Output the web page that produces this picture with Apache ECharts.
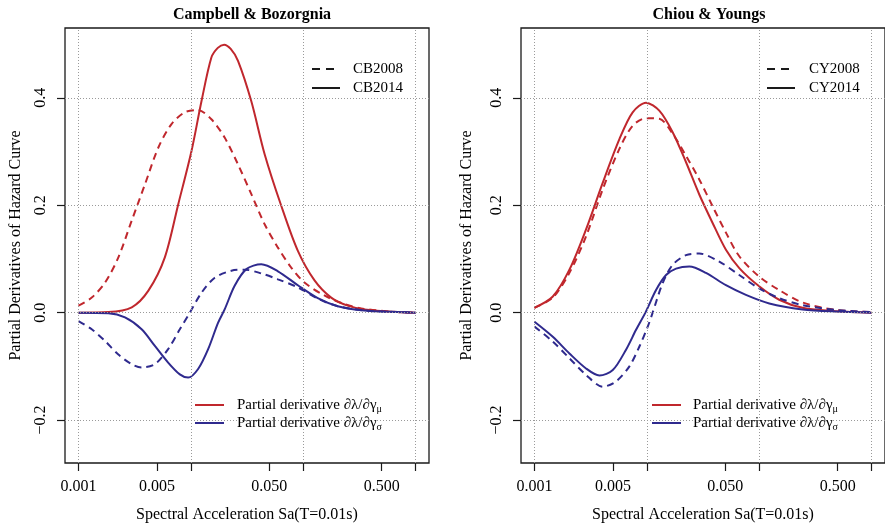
<!DOCTYPE html>
<html>
<head>
<meta charset="utf-8">
<script src="https://cdn.jsdelivr.net/npm/echarts@6/dist/echarts.min.js"></script>
<style>html,body{margin:0;padding:0;background:#fff;}#c{width:885px;height:528px;}</style>
</head>
<body>
<div id="c"></div>
<script>
// ---------- data ----------
const panelTitles = ['Campbell & Bozorgnia', 'Chiou & Youngs'];
const versionLabels = [['CB2008', 'CB2014'], ['CY2008', 'CY2014']];
const derivLabelMu = 'Partial derivative \u2202\u03bb/\u2202\u03b3{sub|\u03bc}';
const derivLabelSigma = 'Partial derivative \u2202\u03bb/\u2202\u03b3{sub|\u03c3}';

const xTickSa = [0.001, 0.005, 0.01, 0.05, 0.1, 0.5, 1];
const xLabelSa = [0.001, 0.005, 0.05, 0.5];
const xLabelText = ['0.001', '0.005', '0.050', '0.500'];
const xGridSa = [0.001, 0.01, 0.1, 1];
const yTickValues = [-0.2, 0, 0.2, 0.4];
const yLabelText = ['\u22120.2', '0.0', '0.2', '0.4'];

// Campbell & Bozorgnia
const cb14MuSa = [0.001, 0.001845, 0.00298, 0.00419, 0.00587, 0.00773, 0.01014, 0.01245, 0.01524, 0.01738, 0.01977, 0.02265, 0.0263, 0.0345, 0.0454, 0.0638, 0.0897, 0.1262, 0.1775, 0.2495, 0.35, 0.692, 1.0];
const cb14Mu   = [0.000, 0.001, 0.010, 0.041, 0.103, 0.202, 0.301, 0.394, 0.475, 0.493, 0.499, 0.491, 0.469, 0.394, 0.295, 0.199, 0.115, 0.060, 0.028, 0.013, 0.006, 0.001, 0.0];
const cb08MuSa = [0.001, 0.001312, 0.001726, 0.002265, 0.002972, 0.003908, 0.005129, 0.00673, 0.00883, 0.01161, 0.01524, 0.0200, 0.0263, 0.0345, 0.0453, 0.0596, 0.0782, 0.1026, 0.1545, 0.2323, 0.35, 0.69, 1.0];
const cb08Mu   = [0.013, 0.028, 0.056, 0.103, 0.171, 0.239, 0.307, 0.351, 0.373, 0.377, 0.360, 0.326, 0.276, 0.221, 0.165, 0.121, 0.084, 0.056, 0.032, 0.016, 0.007, 0.001, 0.0];
const cb14SigSa = [0.001, 0.001845, 0.002594, 0.003648, 0.004786, 0.00628, 0.00798, 0.00946, 0.01161, 0.01426, 0.01746, 0.0200, 0.02455, 0.0312, 0.0424, 0.0596, 0.0897, 0.1349, 0.2032, 0.35, 0.69, 1.0];
const cb14Sig   = [0.0, -0.001, -0.009, -0.031, -0.062, -0.093, -0.115, -0.121, -0.105, -0.068, -0.019, 0.006, 0.050, 0.081, 0.090, 0.077, 0.051, 0.027, 0.012, 0.004, 0.001, 0.0];
const cb08SigSa = [0.001, 0.001312, 0.001726, 0.002265, 0.002972, 0.003648, 0.004786, 0.00628, 0.00798, 0.0098, 0.01245, 0.01633, 0.02296, 0.0302, 0.0424, 0.0596, 0.0897, 0.1349, 0.2032, 0.35, 0.69, 1.0];
const cb08Sig   = [-0.016, -0.031, -0.053, -0.078, -0.096, -0.102, -0.096, -0.068, -0.031, 0.0, 0.037, 0.065, 0.078, 0.080, 0.073, 0.062, 0.047, 0.026, 0.012, 0.004, 0.001, 0.0];

// Chiou & Youngs
const cyMuSa = [0.001, 0.001456, 0.002046, 0.002877, 0.004055, 0.0057, 0.00748, 0.00984, 0.01291, 0.01698, 0.02234, 0.0293, 0.0385, 0.0506, 0.0665, 0.1, 0.1507, 0.2432, 0.481, 1.0];
const cy14Mu = [0.009, 0.030, 0.080, 0.155, 0.242, 0.323, 0.373, 0.391, 0.376, 0.336, 0.280, 0.220, 0.167, 0.117, 0.083, 0.049, 0.024, 0.009, 0.0025, 0.0];
const cy08Mu = [0.009, 0.028, 0.074, 0.142, 0.230, 0.305, 0.348, 0.362, 0.361, 0.333, 0.292, 0.248, 0.198, 0.149, 0.105, 0.067, 0.042, 0.019, 0.005, 0.001];
const cy14SigSa = [0.001, 0.001456, 0.002046, 0.002877, 0.003784, 0.004977, 0.00653, 0.00802, 0.00971, 0.01208, 0.01483, 0.0182, 0.0239, 0.0336, 0.0506, 0.0762, 0.1230, 0.2432, 0.481, 1.0];
const cy14Sig   = [-0.017, -0.045, -0.076, -0.104, -0.117, -0.107, -0.069, -0.032, 0.0, 0.042, 0.070, 0.082, 0.086, 0.074, 0.051, 0.033, 0.017, 0.006, 0.002, 0.0];
const cy08SigSa = [0.001, 0.001456, 0.002046, 0.002877, 0.004055, 0.005321, 0.006998, 0.00859, 0.01019, 0.01127, 0.01384, 0.01698, 0.02234, 0.0293, 0.04416, 0.0665, 0.1, 0.1507, 0.2432, 0.481, 1.0];
const cy08Sig   = [-0.026, -0.054, -0.085, -0.116, -0.138, -0.128, -0.100, -0.063, -0.026, 0.0, 0.055, 0.089, 0.107, 0.110, 0.095, 0.070, 0.045, 0.027, 0.014, 0.005, 0.001];

// ---------- chart ----------
const RED = '#c0272d', BLUE = '#2f2a8e', INK = '#1a1a1a';
const FONT = 'Liberation Serif';
const X_MIN = -3.12, X_MAX = 0.12, Y_MIN = -0.28, Y_MAX = 0.53;
const lg = v => Math.log10(v);
const pairs = (xs, ys) => xs.map((x, i) => [lg(x), ys[i]]);
const findLabel = (vals, texts, v) => {
  const i = vals.findIndex(a => Math.abs(a - v) < 1e-6);
  return i >= 0 ? texts[i] : '';
};

const grids = [
  { left: 65, top: 28, width: 364, height: 435 },
  { left: 521, top: 28, width: 364, height: 435 }
].map(g => Object.assign(g, { show: true, borderColor: INK, borderWidth: 1.3, backgroundColor: 'transparent',
  containLabel: false, outerBoundsMode: 'none' }));

const xLabelLog = xLabelSa.map(lg);
const xAxes = [0, 1].map(i => ({
  type: 'value', gridIndex: i, min: X_MIN, max: X_MAX,
  name: 'Spectral Acceleration Sa(T=0.01s)', nameLocation: 'middle', nameGap: 44,
  nameTextStyle: { fontFamily: FONT, fontSize: 16, color: '#000' },
  axisLine: { show: false, onZero: false },
  axisTick: { show: true, inside: false, length: 8, customValues: xTickSa.map(lg), lineStyle: { color: INK, width: 1.2 } },
  axisLabel: { customValues: xLabelLog, margin: 16, fontFamily: FONT, fontSize: 16, color: '#000',
    formatter: v => findLabel(xLabelLog, xLabelText, v) },
  splitLine: { show: false }
}));

const yAxes = [0, 1].map(i => ({
  type: 'value', gridIndex: i, min: Y_MIN, max: Y_MAX,
  name: 'Partial Derivatives of Hazard Curve', nameLocation: 'middle', nameGap: i === 0 ? 41 : 46,
  nameTextStyle: { fontFamily: FONT, fontSize: 16, color: '#000' },
  axisLine: { show: false, onZero: false },
  axisTick: { show: true, inside: false, length: 8, customValues: yTickValues, lineStyle: { color: INK, width: 1.2 } },
  axisLabel: { customValues: yTickValues, rotate: 90, margin: 16, fontFamily: FONT, fontSize: 16, color: '#000',
    formatter: v => findLabel(yTickValues, yLabelText, v) },
  splitLine: { show: false }
}));

function curve(i, xs, ys, color, dashed) {
  return {
    type: 'line', xAxisIndex: i, yAxisIndex: i, data: pairs(xs, ys),
    smooth: 0.3, showSymbol: false, symbol: 'none', z: 3, silent: true,
    lineStyle: { color: color, width: 2, type: dashed ? [7, 5] : 'solid' }
  };
}
function gridSeries(i) {
  return {
    type: 'line', xAxisIndex: i, yAxisIndex: i, data: [[-3, 0]], showSymbol: false, symbol: 'none', z: 1, silent: true,
    lineStyle: { width: 0, opacity: 0 },
    markLine: {
      silent: true, symbol: 'none', label: { show: false }, animation: false,
      lineStyle: { type: [1, 2], color: '#9a9a9a', width: 1 },
      data: xGridSa.map(v => ({ xAxis: lg(v) })).concat(yTickValues.map(v => ({ yAxis: v })))
    }
  };
}

const series = [
  gridSeries(0), gridSeries(1),
  curve(0, cb08MuSa, cb08Mu, RED, true),
  curve(0, cb14MuSa, cb14Mu, RED, false),
  curve(0, cb08SigSa, cb08Sig, BLUE, true),
  curve(0, cb14SigSa, cb14Sig, BLUE, false),
  curve(1, cyMuSa, cy08Mu, RED, true),
  curve(1, cyMuSa, cy14Mu, RED, false),
  curve(1, cy08SigSa, cy08Sig, BLUE, true),
  curve(1, cy14SigSa, cy14Sig, BLUE, false)
];

// legends drawn as graphic elements
function seg(x1, x2, y, color, dash) {
  return { type: 'line', shape: { x1: x1, y1: y, x2: x2, y2: y }, z: 10,
    style: { stroke: color, lineWidth: 2, lineDash: dash || null } };
}
function txt(x, y, text, rich) {
  return { type: 'text', x: x, y: y, z: 10,
    style: { text: text, fill: '#000', font: '15px "' + FONT + '"', fontFamily: FONT, fontSize: 15,
      verticalAlign: 'middle', align: 'left', rich: rich || undefined } };
}
const subRich = { sub: { fontSize: 10, fontFamily: FONT, fill: '#000', verticalAlign: 'bottom', padding: [9, 0, 0, 0] } };
const legendPos = [
  { topX: 312, topTextX: 353, botX: 195, botTextX: 237 },
  { topX: 767, topTextX: 809, botX: 652, botTextX: 693 }
];
const graphics = [];
legendPos.forEach((p, i) => {
  graphics.push(seg(p.topX, p.topX + 28, 69, INK, [8, 6]));
  graphics.push(seg(p.topX, p.topX + 28, 88, INK));
  graphics.push(txt(p.topTextX, 69, versionLabels[i][0]));
  graphics.push(txt(p.topTextX, 88, versionLabels[i][1]));
  graphics.push(seg(p.botX, p.botX + 29, 405, RED));
  graphics.push(seg(p.botX, p.botX + 29, 423, BLUE));
  graphics.push(txt(p.botTextX, 405, derivLabelMu, subRich));
  graphics.push(txt(p.botTextX, 423, derivLabelSigma, subRich));
});

const chart = echarts.init(document.getElementById('c'), null, { renderer: 'canvas' });
chart.setOption({
  animation: false,
  backgroundColor: '#fff',
  title: [
    { text: panelTitles[0], left: 247, top: 2, textAlign: 'center',
      textStyle: { fontFamily: FONT, fontWeight: 'bold', fontSize: 16, color: '#000' } },
    { text: panelTitles[1], left: 704, top: 2, textAlign: 'center',
      textStyle: { fontFamily: FONT, fontWeight: 'bold', fontSize: 16, color: '#000' } }
  ],
  grid: grids,
  xAxis: xAxes,
  yAxis: yAxes,
  series: series,
  graphic: graphics
});
</script>
</body>
</html>
